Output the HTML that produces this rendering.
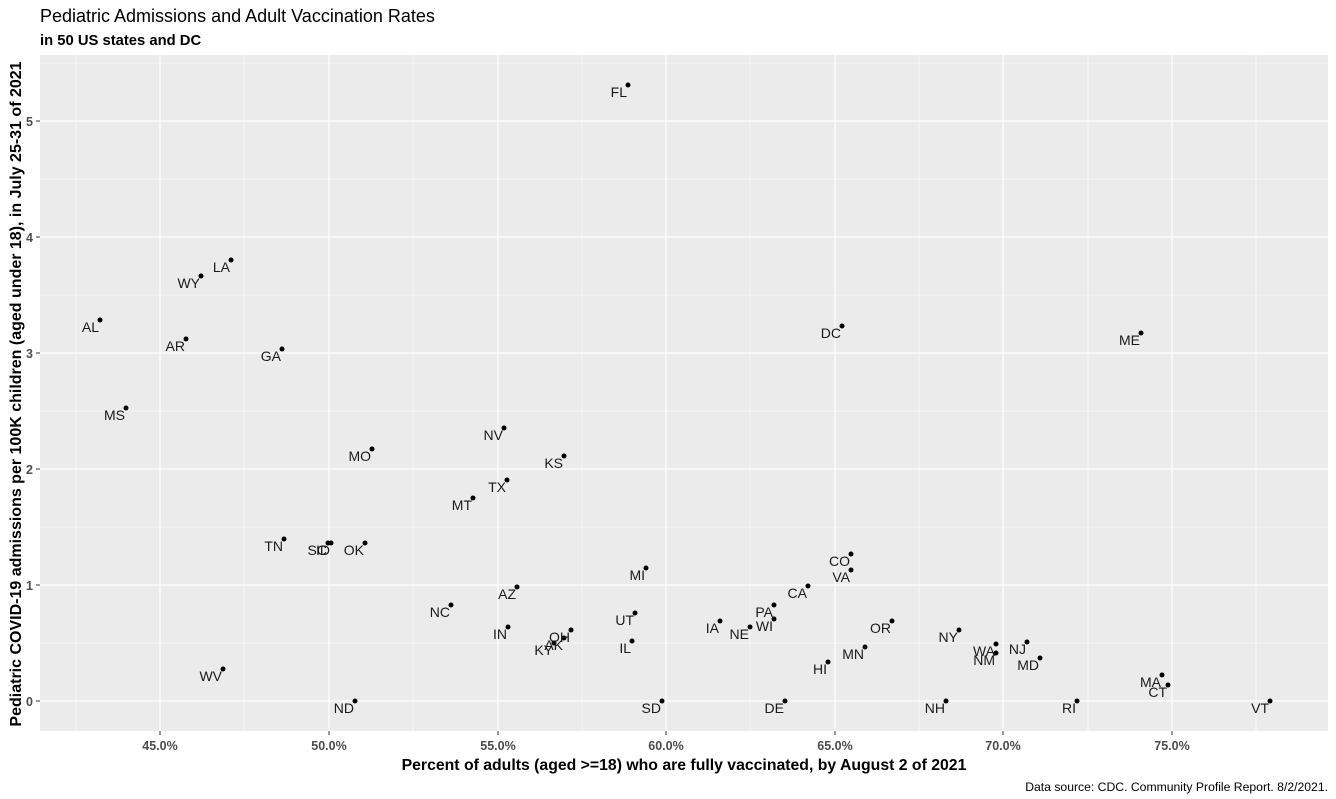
<!DOCTYPE html>
<html><head><meta charset="utf-8"><style>body{margin:0;background:#fff}svg{display:block}</style></head><body>
<svg width="1336" height="799" xmlns="http://www.w3.org/2000/svg" font-family="Liberation Sans, Arial, sans-serif">
<text x="40" y="22" font-size="18" fill="#000">Pediatric Admissions and Adult Vaccination Rates</text>
<text x="40" y="45" font-size="14.8" font-weight="bold" fill="#000">in 50 US states and DC</text>
<rect x="40" y="55" width="1288" height="676" fill="#ebebeb"/>
<g stroke="#fff" stroke-width="0.6">
<line x1="40" x2="1328" y1="643" y2="643"/><line x1="40" x2="1328" y1="527" y2="527"/><line x1="40" x2="1328" y1="411" y2="411"/><line x1="40" x2="1328" y1="295" y2="295"/><line x1="40" x2="1328" y1="179" y2="179"/><line x1="40" x2="1328" y1="63" y2="63"/>
<line y1="55" y2="731" x1="76" x2="76"/><line y1="55" y2="731" x1="244" x2="244"/><line y1="55" y2="731" x1="413" x2="413"/><line y1="55" y2="731" x1="582" x2="582"/><line y1="55" y2="731" x1="750" x2="750"/><line y1="55" y2="731" x1="919" x2="919"/><line y1="55" y2="731" x1="1088" x2="1088"/><line y1="55" y2="731" x1="1256" x2="1256"/>
</g>
<g stroke="#fff" stroke-width="1.2">
<line x1="40" x2="1328" y1="701" y2="701"/><line x1="40" x2="1328" y1="585" y2="585"/><line x1="40" x2="1328" y1="469" y2="469"/><line x1="40" x2="1328" y1="353" y2="353"/><line x1="40" x2="1328" y1="237" y2="237"/><line x1="40" x2="1328" y1="121" y2="121"/>
<line y1="55" y2="731" x1="160" x2="160"/><line y1="55" y2="731" x1="329" x2="329"/><line y1="55" y2="731" x1="498" x2="498"/><line y1="55" y2="731" x1="666" x2="666"/><line y1="55" y2="731" x1="835" x2="835"/><line y1="55" y2="731" x1="1003" x2="1003"/><line y1="55" y2="731" x1="1172" x2="1172"/>
</g>
<g stroke="#333" stroke-width="1">
<line x1="36" x2="40" y1="701" y2="701"/><line x1="36" x2="40" y1="585" y2="585"/><line x1="36" x2="40" y1="469" y2="469"/><line x1="36" x2="40" y1="353" y2="353"/><line x1="36" x2="40" y1="237" y2="237"/><line x1="36" x2="40" y1="121" y2="121"/>
<line y1="731" y2="735" x1="160" x2="160"/><line y1="731" y2="735" x1="329" x2="329"/><line y1="731" y2="735" x1="498" x2="498"/><line y1="731" y2="735" x1="666" x2="666"/><line y1="731" y2="735" x1="835" x2="835"/><line y1="731" y2="735" x1="1003" x2="1003"/><line y1="731" y2="735" x1="1172" x2="1172"/>
</g>
<g font-size="12.5" font-weight="bold" fill="#4d4d4d" text-anchor="end">
<text x="33" y="706">0</text><text x="33" y="590">1</text><text x="33" y="474">2</text><text x="33" y="358">3</text><text x="33" y="242">4</text><text x="33" y="126">5</text>
</g>
<g font-size="12.5" font-weight="bold" fill="#4d4d4d" text-anchor="middle">
<text x="160" y="750">45.0%</text><text x="329" y="750">50.0%</text><text x="498" y="750">55.0%</text><text x="666" y="750">60.0%</text><text x="835" y="750">65.0%</text><text x="1003" y="750">70.0%</text><text x="1172" y="750">75.0%</text>
</g>
<text x="684" y="770" font-size="15.8" font-weight="bold" text-anchor="middle">Percent of adults (aged &gt;=18) who are fully vaccinated, by August 2 of 2021</text>
<text transform="translate(21,394) rotate(-90)" font-size="16" font-weight="bold" text-anchor="middle">Pediatric COVID-19 admissions per 100K children (aged under 18), in July 25-31 of 2021</text>
<text x="1328" y="791" font-size="12.2" text-anchor="end">Data source: CDC. Community Profile Report. 8/2/2021.</text>
<g id="pts" fill="#000"></g>
<g id="lbl" font-size="14" fill="#1a1a1a" text-anchor="end"></g>
</svg>
<script>
var d=[["FL",628,85],["LA",231,260],["WY",201,276],["AL",100,320],["AR",186,339],["GA",282,349],["DC",842,326],["ME",1141,333],["MS",126,408],["NV",504,428],["KS",564,456],["MO",372,449],["TX",507,480],["MT",473,498],["TN",284,539],["SC",328,543],["ID",331,543],["OK",365,543],["CO",851,554],["VA",851,570],["MI",646,568],["CA",808,586],["AZ",517,587],["PA",774,605],["NC",451,605],["UT",635,613],["IA",720,621],["WI",774,619],["NE",750,627],["OR",892,621],["IN",508,627],["OH",571,630],["AK",564,638],["KY",554,643],["IL",632,641],["NY",959,630],["WA",996,644],["NJ",1027,642],["NM",996,653],["MD",1040,658],["MN",865,647],["HI",828,662],["WV",223,669],["MA",1162,675],["CT",1168,685],["ND",355,701],["SD",662,701],["DE",785,701],["NH",946,701],["RI",1077,701],["VT",1270,701]];
var ns="http://www.w3.org/2000/svg",p=document.getElementById("pts"),l=document.getElementById("lbl");
d.forEach(function(a){var c=document.createElementNS(ns,"circle");c.setAttribute("cx",a[1]);c.setAttribute("cy",a[2]);c.setAttribute("r",2.5);p.appendChild(c);
var t=document.createElementNS(ns,"text");t.setAttribute("x",a[1]-1);t.setAttribute("y",a[2]+12);t.textContent=a[0];l.appendChild(t);});
</script>
</body></html>
